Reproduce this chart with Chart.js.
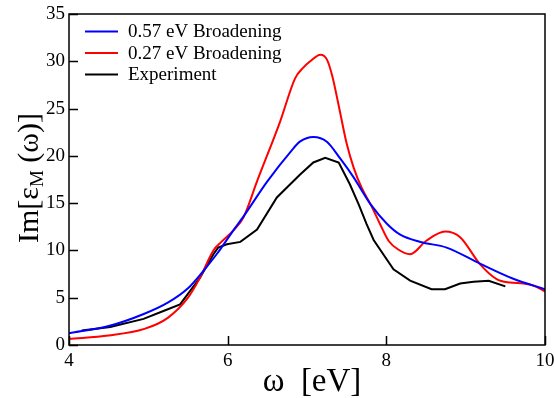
<!DOCTYPE html>
<html>
<head>
<meta charset="utf-8">
<script src="https://cdn.jsdelivr.net/npm/chart.js@4"></script>
<style>
  html, body { margin: 0; padding: 0; background: #fff; }
  #wrap { width: 554px; height: 398px; position: relative; }
</style>
</head>
<body>
<div id="wrap"><canvas id="chart"></canvas></div>
<script>
// data
const omegaBlue = [4.0, 4.5, 4.95, 5.25, 5.5, 5.7, 5.87, 6.07, 6.2, 6.5, 6.8, 6.91, 7.08, 7.25, 7.42, 7.59, 7.8, 8.01, 8.17, 8.43, 8.76, 9.18, 9.6, 10.0];
const broad057 = [1.25, 2.0, 3.3, 4.5, 6.0, 7.9, 9.7, 12.1, 13.6, 17.3, 20.5, 21.5, 22.0, 21.5, 19.7, 17.7, 14.9, 12.8, 11.7, 10.9, 10.3, 8.6, 7.0, 5.9];

const omegaRed = [4.0, 4.5, 4.95, 5.25, 5.5, 5.65, 5.82, 5.92, 6.07, 6.2, 6.37, 6.66, 6.85, 6.95, 7.04, 7.17, 7.25, 7.32, 7.40, 7.50, 7.59, 7.69, 7.80, 7.92, 8.03, 8.15, 8.3, 8.5, 8.74, 8.93, 9.18, 9.39, 9.56, 9.73, 9.86, 10.0];
const broad027 = [0.65, 1.0, 1.7, 2.9, 5.0, 7.1, 10.0, 10.9, 12.1, 13.5, 17.3, 23.6, 28.2, 29.3, 30.0, 30.7, 30.2, 28.4, 25.3, 21.3, 18.7, 16.6, 14.9, 12.8, 11.0, 10.1, 9.6, 11.0, 12.0, 11.4, 8.55, 6.97, 6.6, 6.5, 6.27, 5.67];

const omegaExp = [4.16, 4.52, 4.94, 5.19, 5.40, 5.65, 5.82, 5.88, 5.99, 6.16, 6.37, 6.62, 6.91, 7.08, 7.23, 7.40, 7.54, 7.65, 7.75, 7.84, 8.09, 8.30, 8.57, 8.74, 8.93, 9.10, 9.29, 9.50];
const experiment = [1.53, 1.9, 2.76, 3.6, 4.3, 7.1, 9.6, 10.3, 10.65, 10.9, 12.2, 15.6, 18.0, 19.3, 19.8, 19.3, 17.0, 14.9, 12.8, 11.1, 8.0, 6.8, 5.9, 5.9, 6.5, 6.7, 6.8, 6.2];

const xTicks = [4, 6, 8, 10];
const yTicks = [0, 5, 10, 15, 20, 25, 30, 35];
const seriesNames = ['0.57 eV Broadening', '0.27 eV Broadening', 'Experiment'];

const serif = "'Liberation Serif', 'Times New Roman', serif";

function toPoints(xs, ys) {
    return xs.map((x, i) => ({ x: x, y: ys[i] }));
}

// 프레임, 안쪽 눈금, 범례, 축 제목
const decorPlugin = {
    id: 'decor',
    afterDraw(chart) {
        const ctx = chart.ctx;
        const a = chart.chartArea;
        const xs = chart.scales.x, ys = chart.scales.y;
        ctx.save();
        ctx.strokeStyle = '#000';
        ctx.lineWidth = 1.5;
        ctx.strokeRect(a.left, a.top, a.right - a.left, a.bottom - a.top);

        // inward ticks
        ctx.beginPath();
        yTicks.forEach(v => {
            const py = Math.round(ys.getPixelForValue(v)) + 0.5;
            ctx.moveTo(a.left, py);
            ctx.lineTo(a.left + 9, py);
        });
        xTicks.forEach(v => {
            const px = Math.round(xs.getPixelForValue(v)) + 0.5;
            ctx.moveTo(px, a.bottom);
            ctx.lineTo(px, a.bottom - 9);
        });
        ctx.stroke();

        // legend
        ctx.font = '19px ' + serif;
        ctx.textBaseline = 'middle';
        ctx.textAlign = 'left';
        chart.data.datasets.forEach((ds, i) => {
            const y = a.top + 17.5 + i * 21.5;
            ctx.strokeStyle = ds.borderColor;
            ctx.lineWidth = 2;
            ctx.beginPath();
            ctx.moveTo(a.left + 16, y);
            ctx.lineTo(a.left + 49, y);
            ctx.stroke();
            ctx.fillStyle = '#000';
            ctx.fillText(ds.label, a.left + 59, y + 1);
        });

        // x title
        ctx.fillStyle = '#000';
        ctx.font = '33px ' + serif;
        ctx.textAlign = 'center';
        ctx.textBaseline = 'alphabetic';
        ctx.fillText('\u03c9  [eV]', (a.left + a.right) / 2 + 5, 391);

        // y title with subscript M
        ctx.translate(38, 178);
        ctx.rotate(-Math.PI / 2);
        const big = '30px ' + serif, small = '19px ' + serif;
        const parts = [['Im[\u03b5', big, 0], ['M', small, 5], [' (\u03c9)]', big, 0]];
        let total = 0;
        parts.forEach(p => { ctx.font = p[1]; total += ctx.measureText(p[0]).width; });
        let cx = -total / 2;
        ctx.textAlign = 'left';
        parts.forEach(p => {
            ctx.font = p[1];
            ctx.fillText(p[0], cx, p[2]);
            cx += ctx.measureText(p[0]).width;
        });
        ctx.restore();
    }
};

document.addEventListener('DOMContentLoaded', function() {
    const canvas = document.getElementById('chart');
    new Chart(canvas, {
        type: 'scatter',
        data: {
            datasets: [{
                label: seriesNames[0],
                data: toPoints(omegaBlue, broad057),
                borderColor: '#0000ff',
                cubicInterpolationMode: 'monotone'
            }, {
                label: seriesNames[1],
                data: toPoints(omegaRed, broad027),
                borderColor: '#ff0000',
                cubicInterpolationMode: 'monotone'
            }, {
                label: seriesNames[2],
                data: toPoints(omegaExp, experiment),
                borderColor: '#000000',
                tension: 0
            }].map(ds => Object.assign({
                showLine: true,
                borderWidth: 2,
                pointRadius: 0,
                fill: false
            }, ds))
        },
        options: {
            responsive: true,
            maintainAspectRatio: false,
            animation: false,
            devicePixelRatio: 1,
            layout: { padding: { top: 14, right: 9, left: 0, bottom: 0 } },
            plugins: {
                legend: { display: false },
                tooltip: { enabled: false }
            },
            scales: {
                x: {
                    type: 'linear',
                    min: 4,
                    max: 10,
                    afterFit: s => { s.height = 53; s.paddingLeft = 0; s.paddingRight = 0; },
                    afterBuildTicks: s => { s.ticks = xTicks.map(v => ({ value: v })); },
                    grid: { display: false, drawTicks: false },
                    border: { display: false },
                    ticks: {
                        color: '#000',
                        padding: 5,
                        maxRotation: 0,
                        font: { family: serif, size: 19 }
                    }
                },
                y: {
                    type: 'linear',
                    min: 0,
                    max: 35,
                    afterFit: s => { s.width = 69; s.paddingTop = 0; s.paddingBottom = 0; },
                    afterBuildTicks: s => { s.ticks = yTicks.map(v => ({ value: v })); },
                    grid: { display: false, drawTicks: false },
                    border: { display: false },
                    ticks: {
                        color: '#000',
                        padding: 4,
                        font: { family: serif, size: 19 }
                    }
                }
            }
        },
        plugins: [decorPlugin]
    });
});
</script>
</body>
</html>
